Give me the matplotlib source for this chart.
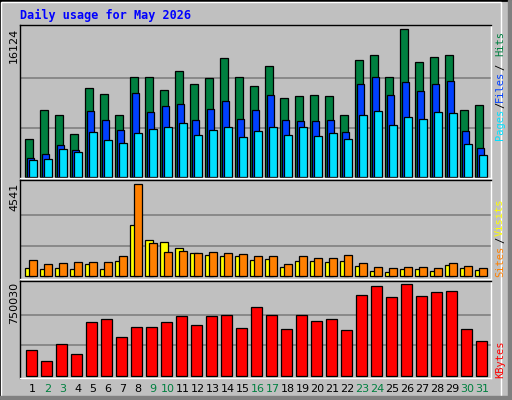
import numpy as np
import matplotlib
matplotlib.use("Agg")
import matplotlib.pyplot as plt
from matplotlib.patches import Rectangle

days = np.arange(1, 32)
hits = [4086, 7260, 6712, 4633, 9667, 9011, 6712, 10871, 10871, 9448, 11528, 10105, 10762, 12950, 10871,
        9886, 12075, 8573, 8792, 8901, 8792, 6712, 12732, 13279, 10871, 16124, 12513, 13060, 13279, 7260, 7807]
files = [2006, 2444, 3429, 2882, 7150, 6165, 5071, 9120, 7041, 7697, 7916, 6165, 7369, 8244, 6275,
         7260, 8901, 6165, 6056, 6056, 6165, 4852, 10105, 10871, 8901, 10324, 9339, 10105, 10433, 4961, 3101]
pages = [1788, 1897, 2991, 2663, 4852, 3976, 3648, 4742, 5180, 5399, 5837, 4524, 5071, 5399, 4305,
         4961, 5399, 4524, 5399, 4414, 4742, 4086, 6712, 7150, 5618, 6493, 6275, 7041, 6931, 3539, 2335]
sites = [790, 592, 642, 691, 691, 691, 987, 4541, 1629, 1184, 1234, 1135, 1184, 1135, 1086,
         987, 987, 592, 987, 888, 888, 1036, 642, 444, 395, 444, 444, 395, 642, 494, 395]
visits = [395, 345, 395, 345, 592, 345, 740, 2517, 1777, 1678, 1382, 1135, 1036, 987, 987,
          790, 839, 444, 740, 740, 691, 740, 494, 247, 197, 345, 345, 247, 543, 395, 296]
kbytes = [216223, 125902, 265489, 183379, 437920, 462553, 322966, 396865, 396865, 437920, 487186,
          413287, 487186, 495397, 388654, 561085, 495397, 380443, 495397, 446131, 462553, 372232,
          659617, 733516, 643195, 750030, 651406, 684250, 692461, 380443, 290122]
weekend = [2, 3, 9, 10, 16, 17, 23, 24, 30, 31]

W, H = 512, 400
BG = "#c0c0c0"
mono = "DejaVu Sans Mono"

fig = plt.figure(figsize=(W / 100, H / 100), dpi=100, facecolor=BG)

def px_axes(x0, y0, x1, y1):
    ax = fig.add_axes([x0 / W, 1 - y1 / H, (x1 - x0) / W, (y1 - y0) / H])
    ax.set_facecolor(BG)
    ax.set_xlim(2 / 3, 2 / 3 + (x1 - x0) / 15)
    ax.set_xticks([])
    ax.set_yticks([])
    for s in ("left", "top"):
        ax.spines[s].set_color("black")
    for s in ("right", "bottom"):
        ax.spines[s].set_color("white")
    for s in ax.spines.values():
        s.set_linewidth(1)
    return ax

def grid(ax, vmax):
    for g in (vmax / 3, 2 * vmax / 3):
        ax.axhline(g, color="#808080", lw=1.2, zorder=0)

ekw = dict(edgecolor="black", linewidth=0.9, align="edge")

# top panel: hits / files / pages
ax1 = px_axes(20, 25, 491, 178)
ax1.set_ylim(-142, 16594)
grid(ax1, max(hits))
ax1.bar(days, hits, width=0.5, color="#008040", **ekw)
ax1.bar(days + 0.13, files, width=0.5, color="#0040ff", **ekw)
ax1.bar(days + 0.27, pages, width=0.5, color="#00e0ff", **ekw)

# middle panel: visits (yellow) / sites (orange)
ax2 = px_axes(20, 180, 491, 279)
ax2.set_ylim(-133, 4737)
grid(ax2, max(sites))
ax2.bar(days, visits, width=0.5, color="#ffff00", **ekw)
ax2.bar(days + 0.25, sites, width=0.52, color="#ff8000", **ekw)

# bottom panel: kbytes
ax3 = px_axes(20, 281, 491, 378)
ax3.set_ylim(-16400, 777100)
grid(ax3, max(kbytes))
ax3.bar(days + 0.07, kbytes, width=0.7, color="#ff0000", **ekw)

for d in days:
    ax3.text(d + 0.5, -0.11, str(d), transform=ax3.get_xaxis_transform(), ha="center", va="center",
             fontsize=8, family="DejaVu Sans", color="#008040" if d in weekend else "black")

fig.text(20 / W, 1 - 15 / H, "Daily usage for May 2026", color="#0000ff", fontsize=8.5,
         family=mono, weight="bold", va="center")

for y, lab in ((28, f"{max(hits)}"), (183, f"{max(sites)}"), (282, f"{max(kbytes)}")):
    fig.text(14 / W, 1 - y / H, lab, rotation=90, fontsize=8, family="DejaVu Sans",
             ha="center", va="top")

def side(items):
    for yc, txt, col in items:
        fig.text(500 / W, 1 - yc / H, txt, rotation=90, fontsize=7.5, family=mono,
                 color=col, ha="center", va="center")

side([(44, "Hits", "#008040"), (67, "/", "black"), (86, "Files", "#0040ff"),
      (105, "/", "black"), (124, "Pages", "#00e0ff")])
side([(217, "Visits", "#ffff00"), (240, "/", "black"), (261, "Sites", "#ff8000")])
side([(359, "KBytes", "#ff0000")])

# frame: black outline, bevel with dark shadow right/bottom
fig.patches.append(Rectangle((0, 0), 1, 1, transform=fig.transFigure, fill=False,
                             edgecolor="black", linewidth=2))
fig.patches.append(Rectangle((1 / W, 2 / H), (W - 12) / W, (H - 4) / H, transform=fig.transFigure,
                             fill=False, edgecolor="white", linewidth=1))
fig.patches.append(Rectangle((508 / W, 0), 3 / W, 1, transform=fig.transFigure, color="#808080"))
fig.patches.append(Rectangle((0, 1 / H), 1, 3 / H, transform=fig.transFigure, color="#808080"))

fig.savefig("out.png", dpi=100, facecolor=BG)
